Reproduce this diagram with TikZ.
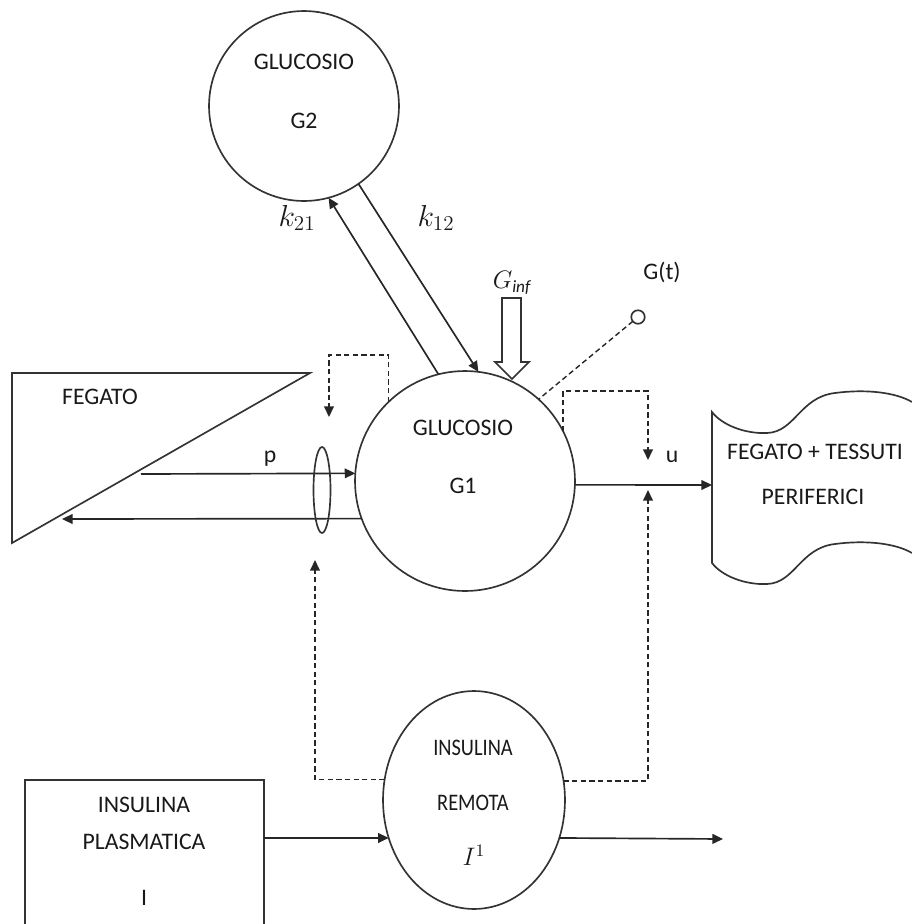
\documentclass[tikz,border=0pt]{standalone}
\usepackage{fontspec}
\setmainfont{Carlito}
\usetikzlibrary{arrows.meta,shapes.geometric}
\begin{document}
\begin{tikzpicture}[x=0.02cm,y=-0.02cm,
  lbl/.style={font=\fontsize{13.5}{16}\selectfont, inner sep=0pt, text=black!90},
  mlbl/.style={font=\fontsize{14}{16}\selectfont, inner sep=0pt, text=black!90},
  klbl/.style={font=\fontsize{17}{19}\selectfont, inner sep=0pt, text=black!90},
  box/.style={draw=black!80, line width=0.95pt, inner sep=0pt, outer sep=0pt},
  tip/.style={-{Triangle[length=6pt,width=5.5pt]}},
  flow/.style={draw=black!85, line width=0.95pt, tip},
  ctrl/.style={draw=black!85, line width=0.8pt, dash pattern=on 3pt off 1.9pt},
  ctrlarrow/.style={ctrl, tip}]

\useasboundingbox (0,0) rectangle (912,924);
\clip (0,0) rectangle (912,924);

% compartments
\node[circle, box, minimum size=3.8cm] (G2) at (304,106) {};
\node[lbl] (G2a) at (304,62) {GLUCOSIO};
\node[lbl] (G2b) at (304,121) {G2};

\node[circle, box, minimum size=4.4cm] (G1) at (465,481) {};
\node[lbl] (G1a) at (463,428) {GLUCOSIO};
\node[lbl] (G1b) at (463,486) {G1};

% exchange between G1 and G2
\draw[flow] (G1.104) -- (G2.-75);
\draw[flow] (G2.-55) -- (G1.83);
\node[klbl] (k21) at (297,218) {$k_{21}$};
\node[klbl] (k12) at (436,218) {$k_{12}$};

% glucose infusion
\draw[box] (502,298) -- (521,298) -- (521,362) -- (529,362) -- (512,379)
  -- (495,362) -- (502,362) -- cycle;
\node[mlbl] (ginf) at (512,283) {$G_{\mathit{inf}}$};

% measured output G(t)
\node[circle, box, minimum size=0.27cm] (Gt) at (638,317) {};
\node[lbl] (Gtl) at (662,272) {G(t)};
\draw[ctrl] (Gt) -- (G1.48);

% liver
\draw[box] (12,373) -- (310,373) -- (12,543) -- cycle;
\node[lbl] (feg) at (100,397) {FEGATO};
\coordinate (pout) at (141,474);
\coordinate (fegin) at (62,519);
\draw[flow] (pout) -- (G1.176);
\node[lbl] (p) at (270,459) {p};
\draw[flow] (G1.200) -- (fegin);
\node[ellipse, box, minimum width=0.34cm, minimum height=1.72cm] (valve) at (322,490) {};
\draw[ctrlarrow] (G1.134) |- (329,355) -- (329,417);

% utilisation
\draw[box] (912,402) .. controls (895,392) and (865,389) .. (835,393)
  .. controls (800,397) and (795,432) .. (767,433)
  .. controls (745,434) and (722,425) .. (712,412) -- (712,563)
  .. controls (722,576) and (745,585) .. (767,584)
  .. controls (795,583) and (800,548) .. (835,544)
  .. controls (865,540) and (895,543) .. (912,553);
\coordinate (docin) at (712,485);
\node[lbl] (per1) at (815,452) {FEGATO + TESSUTI};
\node[lbl] (per2) at (813,497) {PERIFERICI};
\draw[flow] (G1.-2) -- (docin);
\draw[ctrlarrow] (G1.27) |- (648,391) -- (648,460);
\node[lbl] (u) at (672,457) {u};

% insulin
\node[box, minimum width=4.78cm, minimum height=3.2cm, anchor=north west] (PL) at (25,780) {};
\node[lbl] (pl1) at (144,805) {INSULINA};
\node[lbl] (pl2) at (144,842) {PLASMATICA};
\node[lbl] (pl3) at (144,898) {I};

\node[ellipse, box, minimum width=3.64cm, minimum height=4.36cm] (IR) at (474,800) {};
\node[lbl] (ir1) at (473,748) {\scalebox{0.86}[1]{INSULINA}};
\node[lbl] (ir2) at (473,803) {\scalebox{0.86}[1]{REMOTA}};
\node[mlbl] (ir3) at (474,855) {$I^{1}$};
\coordinate (irout) at (723,839);

\draw[flow] (PL.north east |- IR.204.6) -- (IR.204.6);
\draw[flow] (IR.-24.6) -- (irout);
\draw[ctrlarrow] (IR.167.4) -| (315,560);
\draw[ctrlarrow] (IR.12.6) -| (648,490);

\end{tikzpicture}
\end{document}
